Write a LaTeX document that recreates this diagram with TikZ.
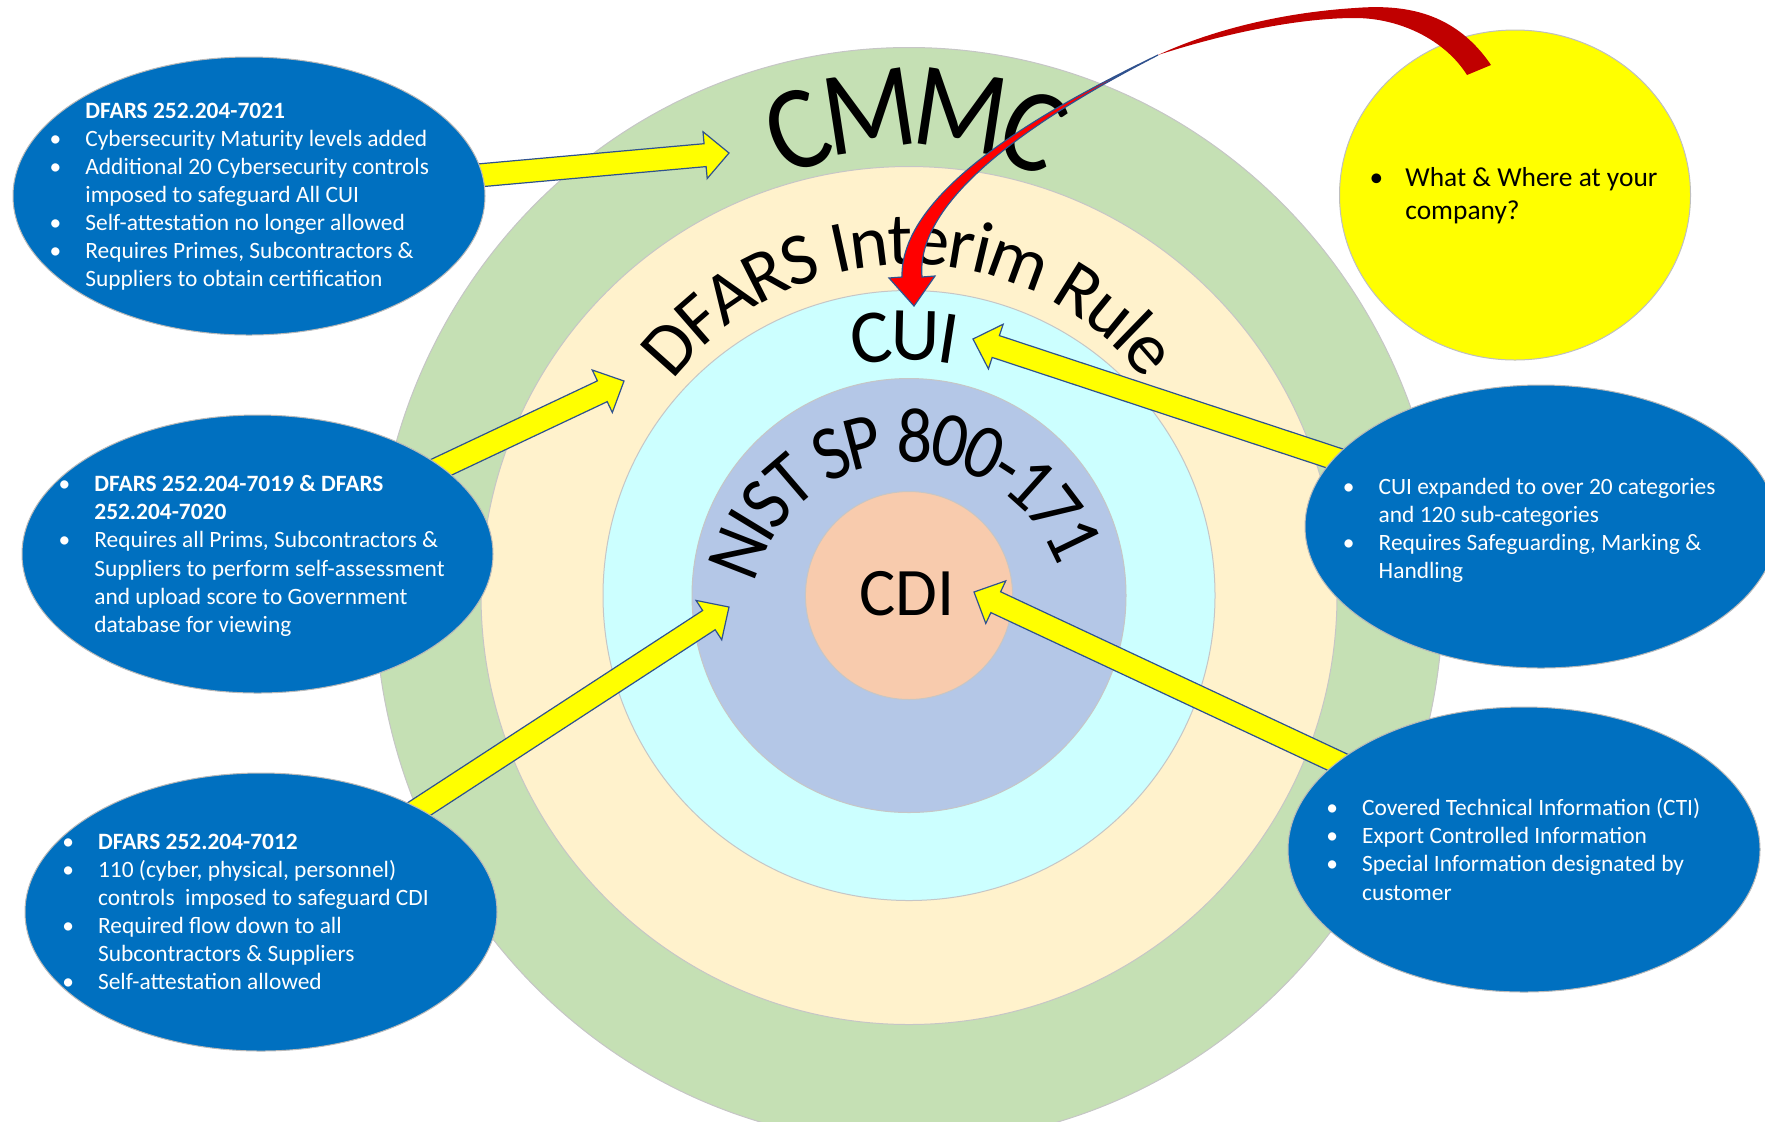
\documentclass[tikz,border=0pt]{standalone}
\usepackage{fontspec}
\setmainfont{Carlito}
\newfontfamily\cmmcfont[FakeStretch=0.9]{Carlito}
\newfontfamily\nistfont[FakeStretch=0.9]{Carlito}
\usetikzlibrary{shapes.geometric,calc,decorations.text}
\definecolor{ringgreen}{HTML}{C5E0B4}
\definecolor{ringcream}{HTML}{FFF2CC}
\definecolor{ringcyan}{HTML}{CCFFFF}
\definecolor{ringnist}{HTML}{B4C7E7}
\definecolor{ringcdi}{HTML}{F8CBAD}
\definecolor{ellblue}{HTML}{0070C0}
\definecolor{arrowedge}{HTML}{2F528F}
\definecolor{darkred}{HTML}{C00000}
\definecolor{pureyellow}{RGB}{255,255,0}
\definecolor{purered}{RGB}{255,0,0}
\pgfdeclarelayer{rings}
\pgfdeclarelayer{arrows}
\pgfdeclarelayer{front}
\pgfsetlayers{rings,arrows,main,front}
\newcommand\bul{\makebox[0pt]{\textbullet}\hspace{15pt}}
\newcommand\nob{\hspace*{15pt}}
\newcommand\ybul{\makebox[0pt]{\textbullet}\hspace{14.5pt}}
\newcommand\ynob{\hspace*{14.5pt}}
\newcommand\bodyfont{\fontsize{11.7}{14.05}\selectfont}
\newcommand\yfont{\fontsize{13.7}{16.5}\selectfont}
% curved text: center, radius, start, end, raise, text
\newcommand\arctext[6]{%
  \path[decorate, decoration={text along path, text align=center, raise=#5,
     text color=black, text={#6}}]
     ($(#1)+(#3:#2)$) arc[start angle=#3, end angle=#4, radius=#2];}
% block arrow from #1 to #2
\newcommand\blockarrow[2]{%
  \coordinate (hb) at ($(#2)!12pt!(#1)$);
  \filldraw[yarrow] ($(#1)!5.75pt!-90:(#2)$) -- ($(hb)!5.75pt!90:(#1)$)
    -- ($(hb)!11.75pt!90:(#1)$) -- (#2) -- ($(hb)!11.75pt!-90:(#1)$)
    -- ($(hb)!5.75pt!-90:(#1)$) -- ($(#1)!5.75pt!90:(#2)$) -- cycle;}
\begin{document}
\begin{tikzpicture}[x=0.5pt, y=-0.5pt,
  ring/.style={ellipse, draw=gray!45, line width=0.5pt, inner sep=0pt},
  bluebub/.style={ellipse, fill=ellblue, draw=gray!55, line width=0.5pt, inner sep=0pt},
  bodytxt/.style={text=white, font=\bodyfont, inner sep=0pt, anchor=base west},
  yarrow/.style={fill=pureyellow, draw=arrowedge, line width=0.6pt, line join=miter}]
\useasboundingbox (0,0) rectangle (1765,1121);

\begin{pgfonlayer}{rings}
\coordinate (rc) at (909,595.5);
\node[ring, fill=ringgreen, minimum width=534pt, minimum height=548pt] (cmmcring) at (rc) {};
\node[ring, fill=ringcream, minimum width=428pt, minimum height=429pt] (dfarsring) at (rc) {};
\node[ring, fill=ringcyan, minimum width=306pt, minimum height=305pt] (cuiring) at (rc) {};
\node[ring, fill=ringnist, minimum width=217pt, minimum height=217pt] (nistring) at (rc) {};
\node[ring, fill=ringcdi, minimum width=103.6pt, minimum height=104pt] (cdiring) at (rc) {};

\coordinate (cmmcc) at (915,414);
\arctext{cmmcc}{306}{-150}{-30}{-19pt}{|\cmmcfont\fontsize{60}{60}\selectfont|CMMC}
\coordinate (dfarsc) at (909,561);
\arctext{dfarsc}{320}{-175}{-5}{-11.7pt}{|\fontsize{37}{37}\selectfont|DFARS Interim Rule}
\coordinate (nistc) at (909,620);
\arctext{nistc}{183}{-178}{-8}{-12.3pt}{|\nistfont\fontsize{39}{39}\selectfont|NIST SP 800-171}
\coordinate (cuic) at (909,596);
\arctext{cuic}{260}{-131}{-51}{-12pt}{|\fontsize{38}{38}\selectfont|CUI}
\node[font=\fontsize{34}{34}\selectfont, inner sep=0pt] (cdi) at (907,594) {CDI};
\end{pgfonlayer}

% blue bubbles
\node[bluebub, minimum width=236pt, minimum height=139pt] (e1) at (249,196) {};
\node[bluebub, minimum width=235.5pt, minimum height=139pt] (e2) at (257.5,554) {};
\node[bluebub, minimum width=236pt, minimum height=139pt] (e3) at (261,912) {};
\node[bluebub, minimum width=236pt, minimum height=141.5pt] (e4) at (1541,526.5) {};
\node[bluebub, minimum width=236pt, minimum height=142.5pt] (e5) at (1524,849.5) {};
\node[ellipse, fill=pureyellow, draw=gray!50, line width=0.5pt, inner sep=0pt,
      minimum width=175.5pt, minimum height=165pt] (ye) at (1515,195) {};

\node[bodytxt] (t1) at (55,118.3) {\begin{tabular}[t]{@{}l@{}}
\nob\textbf{DFARS 252.204-7021}\\
\bul Cybersecurity Maturity levels added\\
\bul Additional 20 Cybersecurity controls\\
\nob imposed to safeguard All CUI\\
\bul Self-attestation no longer allowed\\
\bul Requires Primes, Subcontractors \&\\
\nob Suppliers to obtain certification
\end{tabular}};

\node[bodytxt] (t2) at (64,491.7) {\begin{tabular}[t]{@{}l@{}}
\bul\textbf{DFARS 252.204-7019 \& DFARS}\\
\nob\textbf{252.204-7020}\\
\bul Requires all Prims, Subcontractors \&\\
\nob Suppliers to perform self-assessment\\
\nob and upload score to Government\\
\nob database for viewing
\end{tabular}};

\node[bodytxt] (t3) at (67.7,849.3) {\begin{tabular}[t]{@{}l@{}}
\bul\textbf{DFARS 252.204-7012}\\
\bul 110 (cyber, physical, personnel)\\
\nob controls~ imposed to safeguard CDI\\
\bul Required flow down to all\\
\nob Subcontractors \& Suppliers\\
\bul Self-attestation allowed
\end{tabular}};

\node[bodytxt] (t4) at (1348.3,494) {\begin{tabular}[t]{@{}l@{}}
\bul CUI expanded to over 20 categories\\
\nob and 120 sub-categories\\
\bul Requires Safeguarding, Marking \&\\
\nob Handling
\end{tabular}};

\node[bodytxt] (t5) at (1331.7,815.7) {\begin{tabular}[t]{@{}l@{}}
\bul Covered Technical Information (CTI)\\
\bul Export Controlled Information\\
\bul Special Information designated by\\
\nob customer
\end{tabular}};

\node[text=black, font=\yfont, inner sep=0pt, anchor=base west] (ty) at (1376,186)
 {\begin{tabular}[t]{@{}l@{}}
\ybul What \& Where at your\\
\ynob company?
\end{tabular}};

\begin{pgfonlayer}{arrows}
\coordinate (tipCMMC) at (729,153);
\coordinate (tipDFARS) at (624,381);
\coordinate (tipNIST) at (729,607);
\coordinate (tipCUI) at (973,339);
\coordinate (tipCDI) at (974,592);
\blockarrow{e1.center}{tipCMMC}
\blockarrow{e2.center}{tipDFARS}
\blockarrow{e3.center}{tipNIST}
\blockarrow{e4.center}{tipCUI}
\blockarrow{e5.center}{tipCDI}
\end{pgfonlayer}

\begin{pgfonlayer}{front}
\fill[darkred] (1491,65) .. controls (1455,12) and (1405,4) .. (1355,8)
  .. controls (1275,13) and (1205,33) .. (1158,55)
  .. controls (1210,38) and (1290,18) .. (1355,18)
  .. controls (1400,18) and (1445,40) .. (1467,75) -- cycle;
\filldraw[fill=purered, draw=arrowedge, line width=0.6pt, line join=miter]
  (1158,55) .. controls (1067,99) and (900,185) .. (902,277)
  -- (889,278) -- (914,306) -- (935,276) -- (922,277)
  .. controls (914,189) and (1069,101) .. (1158,55) -- cycle;
\end{pgfonlayer}
\end{tikzpicture}
\end{document}
